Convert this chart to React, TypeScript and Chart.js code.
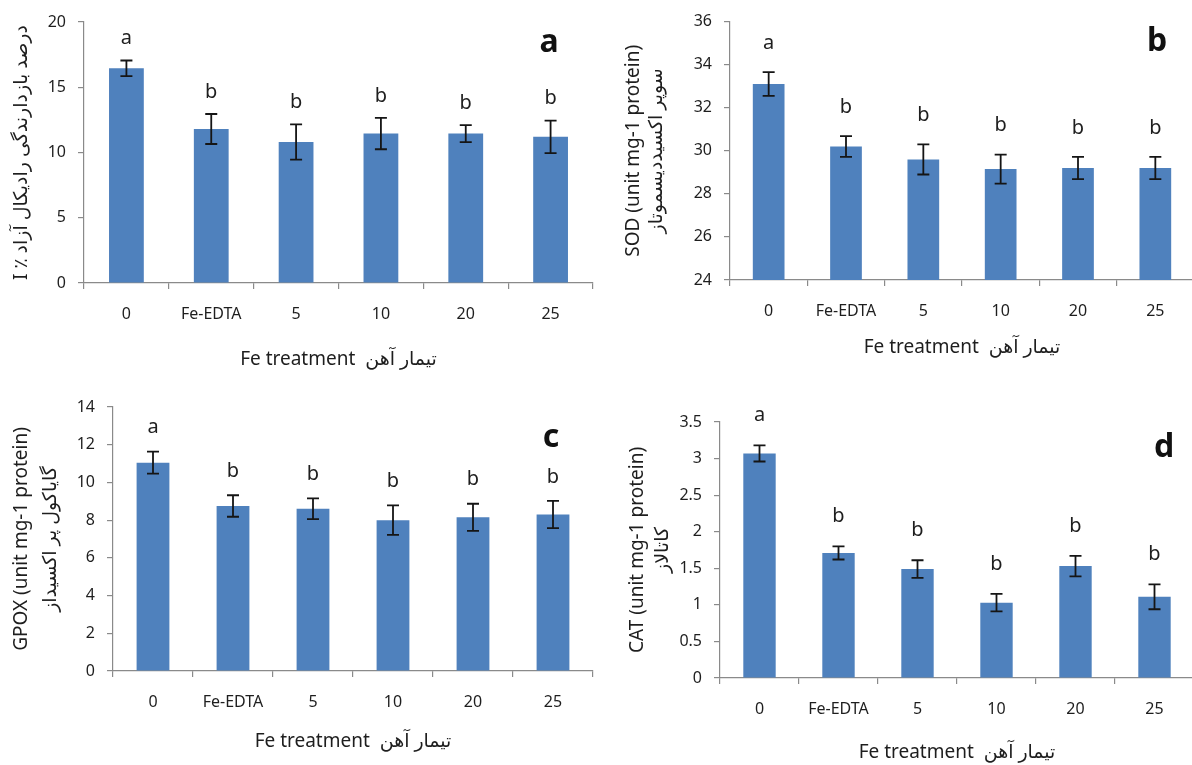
import React, { useEffect, useRef } from "react";
import { Chart, registerables } from "chart.js";

Chart.register(...registerables);

// ---------- data ----------
const categories = ["0", "Fe-EDTA", "5", "10", "20", "25"];
const xAxisTitle = "Fe treatment  تیمار آهن";

const radicalMeans = [16.45, 11.8, 10.8, 11.45, 11.45, 11.2];
const radicalErrors = [0.6, 1.15, 1.35, 1.2, 0.65, 1.25];
const radicalGroups = ["a", "b", "b", "b", "b", "b"];

const sodMeans = [33.1, 30.2, 29.6, 29.15, 29.2, 29.2];
const sodErrors = [0.55, 0.48, 0.7, 0.67, 0.52, 0.52];
const sodGroups = ["a", "b", "b", "b", "b", "b"];

const gpoxMeans = [11.05, 8.75, 8.6, 8.0, 8.15, 8.3];
const gpoxErrors = [0.58, 0.57, 0.55, 0.78, 0.72, 0.72];
const gpoxGroups = ["a", "b", "b", "b", "b", "b"];

const catMeans = [3.07, 1.71, 1.49, 1.03, 1.53, 1.11];
const catErrors = [0.11, 0.09, 0.12, 0.12, 0.14, 0.17];
const catGroups = ["a", "b", "b", "b", "b", "b"];

// ---------- styles ----------
const FONT = "'Noto Sans', 'DejaVu Sans', sans-serif";
const BAR_COLOR = "#4F81BD";
const AXIS_COLOR = "#8a8a8a";
const TEXT_COLOR = "#1e1e1e";

type Panel = {
  id: string;
  letter: string;
  means: number[];
  errors: number[];
  groups: string[];
  yTitle: string | string[];
  yMin: number;
  yMax: number;
  yStep: number;
  box: { left: number; top: number; width: number; height: number };
  area: { x0: number; y0: number; x1: number; y1: number };
  yTitleSize: number;
  yTitleFirst: number;
  yTitleGap: number;
  xTitleOffset: number;
  letterPos: { x: number; y: number };
  groupOffset: number;
};

const panels: Panel[] = [
  {
    id: "a",
    letter: "a",
    means: radicalMeans,
    errors: radicalErrors,
    groups: radicalGroups,
    yTitle: "I ٪ درصد بازدارندگی رادیکال آزاد",
    yMin: 0,
    yMax: 20,
    yStep: 5,
    box: { left: 0, top: 0, width: 596, height: 385 },
    area: { x0: 84, y0: 22, x1: 593, y1: 283 },
    yTitleSize: 19,
    yTitleFirst: 22,
    yTitleGap: 22,
    xTitleOffset: 25,
    letterPos: { x: 549, y: 43 },
    groupOffset: 22,
  },
  {
    id: "b",
    letter: "b",
    means: sodMeans,
    errors: sodErrors,
    groups: sodGroups,
    yTitle: ["SOD (unit mg-1 protein)", "سوپر اکسیددیسموتاز"],
    yMin: 24,
    yMax: 36,
    yStep: 2,
    box: { left: 596, top: 0, width: 600, height: 385 },
    area: { x0: 134, y0: 17, x1: 598, y1: 280 },
    yTitleSize: 19,
    yTitleFirst: 38,
    yTitleGap: 23,
    xTitleOffset: 37,
    letterPos: { x: 561, y: 42 },
    groupOffset: 29,
  },
  {
    id: "c",
    letter: "c",
    means: gpoxMeans,
    errors: gpoxErrors,
    groups: gpoxGroups,
    yTitle: ["GPOX (unit mg-1 protein)", "گایاکول پر اکسیداز"],
    yMin: 0,
    yMax: 14,
    yStep: 2,
    box: { left: 0, top: 385, width: 596, height: 380 },
    area: { x0: 113, y0: 22, x1: 593, y1: 286 },
    yTitleSize: 19,
    yTitleFirst: 22,
    yTitleGap: 29,
    xTitleOffset: 23,
    letterPos: { x: 551, y: 53 },
    groupOffset: 24,
  },
  {
    id: "d",
    letter: "d",
    means: catMeans,
    errors: catErrors,
    groups: catGroups,
    yTitle: ["CAT (unit mg-1 protein)", "کاتالاز"],
    yMin: 0,
    yMax: 3.5,
    yStep: 0.5,
    box: { left: 596, top: 385, width: 600, height: 380 },
    area: { x0: 124, y0: 37, x1: 598, y1: 293 },
    yTitleSize: 19,
    yTitleFirst: 42,
    yTitleGap: 25,
    xTitleOffset: 12,
    letterPos: { x: 568, y: 63 },
    groupOffset: 30,
  },
];

function PanelChart({ p }: { p: Panel }) {
  const ref = useRef<HTMLCanvasElement | null>(null);

  useEffect(() => {
    if (!ref.current) return;
    const annotate = {
      id: "annotate_" + p.id,
      afterDatasetsDraw(chart: any) {
        const ctx = chart.ctx as CanvasRenderingContext2D;
        const meta = chart.getDatasetMeta(0);
        const ys = chart.scales.y;
        ctx.save();
        meta.data.forEach((bar: any, i: number) => {
          const m = p.means[i];
          const e = p.errors[i];
          const yt = ys.getPixelForValue(m + e);
          const yb = ys.getPixelForValue(m - e);
          const x = bar.x;
          ctx.strokeStyle = "#151515";
          ctx.lineWidth = 1.8;
          ctx.beginPath();
          ctx.moveTo(x, yt);
          ctx.lineTo(x, yb);
          ctx.moveTo(x - 6, yt);
          ctx.lineTo(x + 6, yt);
          ctx.moveTo(x - 6, yb);
          ctx.lineTo(x + 6, yb);
          ctx.stroke();
          ctx.fillStyle = TEXT_COLOR;
          ctx.font = `20px ${FONT}`;
          ctx.textAlign = "center";
          ctx.textBaseline = "middle";
          ctx.fillText(p.groups[i], x, yt - p.groupOffset);
        });
        ctx.fillStyle = "#111";
        ctx.font = `bold 32px ${FONT}`;
        ctx.textAlign = "center";
        ctx.textBaseline = "middle";
        ctx.fillText(p.letter, p.letterPos.x, p.letterPos.y);
        ctx.restore();
      },
    };

    const lh = p.yTitleGap / p.yTitleSize;
    const xTitleSize = 19;
    const xTitleLH = 1.2;

    const chart = new Chart(ref.current, {
      type: "bar",
      data: {
        labels: categories,
        datasets: [
          {
            data: p.means,
            backgroundColor: BAR_COLOR,
            borderWidth: 0,
            barPercentage: 0.41,
            categoryPercentage: 1,
          },
        ],
      },
      options: {
        responsive: false,
        animation: false,
        layout: {
          padding: {
            top: p.area.y0,
            left: 0,
            right: p.box.width - p.area.x1,
            bottom: 0,
          },
        },
        plugins: {
          legend: { display: false },
          tooltip: { enabled: false },
        },
        scales: {
          x: {
            offset: true,
            grid: {
              offset: true,
              drawOnChartArea: false,
              drawTicks: true,
              tickLength: 6,
              color: AXIS_COLOR,
              lineWidth: 1.2,
            },
            border: { display: true, color: AXIS_COLOR, width: 1.2 },
            ticks: {
              padding: 16,
              autoSkip: false,
              maxRotation: 0,
              color: TEXT_COLOR,
              font: { family: FONT, size: 16 },
            },
            title: {
              display: true,
              text: xAxisTitle,
              color: TEXT_COLOR,
              font: { family: FONT, size: xTitleSize, lineHeight: xTitleLH },
              padding: { top: 0, bottom: p.xTitleOffset - (xTitleSize * xTitleLH) / 2 },
            },
            afterFit(scale: any) {
              scale.height = p.box.height - p.area.y1;
            },
          },
          y: {
            min: p.yMin,
            max: p.yMax,
            grid: {
              drawOnChartArea: false,
              drawTicks: true,
              tickLength: 6,
              color: AXIS_COLOR,
              lineWidth: 1.2,
            },
            border: { display: true, color: AXIS_COLOR, width: 1.2 },
            ticks: {
              stepSize: p.yStep,
              padding: 12,
              color: TEXT_COLOR,
              font: { family: FONT, size: 16 },
              callback: (v: any) => String(Number(Number(v).toFixed(2))),
            },
            title: {
              display: true,
              text: p.yTitle,
              color: TEXT_COLOR,
              font: { family: FONT, size: p.yTitleSize, lineHeight: lh },
              padding: { top: p.yTitleFirst - p.yTitleGap / 2, bottom: 0 },
            },
            afterFit(scale: any) {
              scale.width = p.area.x0;
            },
          },
        },
      } as any,
      plugins: [annotate],
    });
    return () => chart.destroy();
  }, [p]);

  return (
    <canvas
      ref={ref}
      width={p.box.width}
      height={p.box.height}
      style={{
        position: "absolute",
        left: p.box.left,
        top: p.box.top,
        width: p.box.width,
        height: p.box.height,
      }}
    />
  );
}

export default function App() {
  return (
    <div
      style={{
        position: "fixed",
        left: 0,
        top: 0,
        width: 1192,
        height: 765,
        overflow: "hidden",
        background: "#ffffff",
      }}
    >
      {panels.map((p) => (
        <PanelChart key={p.id} p={p} />
      ))}
    </div>
  );
}
